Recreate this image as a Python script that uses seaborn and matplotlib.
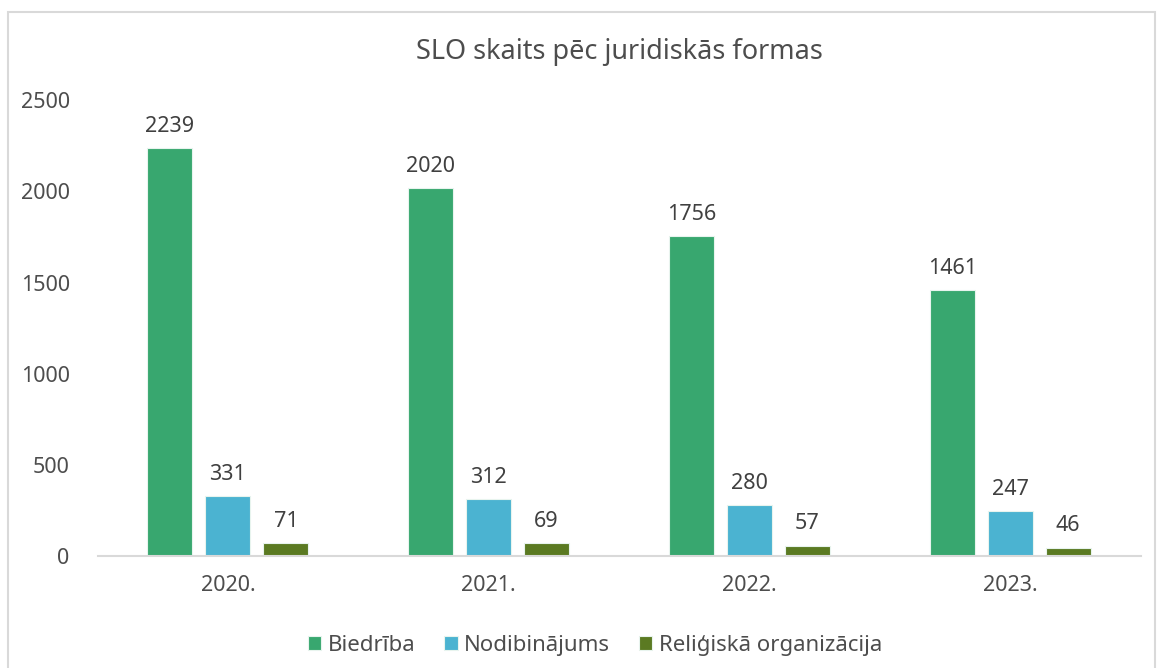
import matplotlib
matplotlib.use('Agg')
import matplotlib.pyplot as plt
import pandas as pd
import seaborn as sns
from matplotlib.patches import Rectangle

# dati
gadi = ["2020.", "2021.", "2022.", "2023."]
formas = ["Biedrība", "Nodibinājums", "Reliģiskā organizācija"]
biedriba = [2239, 2020, 1756, 1461]
nodibinajums = [331, 312, 280, 247]
religiska = [71, 69, 57, 46]
krasas = ["#38A76F", "#4BB3D1", "#5B7A22"]

df = pd.DataFrame({
    "gads": gadi * 3,
    "forma": [formas[0]] * 4 + [formas[1]] * 4 + [formas[2]] * 4,
    "skaits": biedriba + nodibinajums + religiska,
})

sns.set_style("white")
plt.rcParams['font.family'] = ['Noto Sans', 'DejaVu Sans']

fig = plt.figure(figsize=(11.58, 6.68), dpi=100)
ax = fig.add_axes([0.0842, 0.1677, 0.9008, 0.6823])

sns.barplot(data=df, x="gads", y="skaits", hue="forma", hue_order=formas,
            palette=krasas, saturation=1, width=0.667, gap=0.225,
            edgecolor="#E8F4EE", linewidth=0.8, ax=ax, legend=True)

for cont in ax.containers:
    ax.bar_label(cont, padding=8, fontsize=15.5, color="#404040")

ax.set_ylim(0, 2500)
ax.set_yticks([0, 500, 1000, 1500, 2000, 2500])
ax.set_xlabel("")
ax.set_ylabel("")
ax.tick_params(axis="both", length=0, labelsize=15.5, labelcolor="#4D4D4D")
ax.tick_params(axis="x", pad=14)
ax.tick_params(axis="y", pad=20)
for s in ["top", "right", "left"]:
    ax.spines[s].set_visible(False)
ax.spines["bottom"].set_color("#D9D9D9")
ax.spines["bottom"].set_linewidth(1.5)

ax.set_title("SLO skaits pēc juridiskās formas", fontsize=19.5, color="#4D4D4D",
             pad=30)

ax.legend(loc="upper center", bbox_to_anchor=(0.477, -0.13), ncol=3,
          frameon=False, fontsize=16, handlelength=0.6, handleheight=0.6,
          handletextpad=0.3, columnspacing=1.3, labelcolor="#4D4D4D")

# ramis ap diagrammu
fig.patches.append(Rectangle((8 / 1158, -0.01), 1147 / 1158, 1 - 12 / 668 + 0.01,
                             transform=fig.transFigure, fill=False,
                             edgecolor="#D9D9D9", linewidth=1.5))

plt.savefig("out.png", dpi=100)
plt.close()
